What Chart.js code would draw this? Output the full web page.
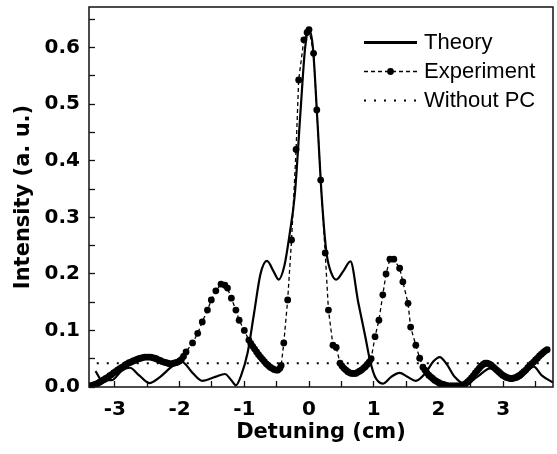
<!DOCTYPE html>
<html>
<head>
<meta charset="utf-8">
<script src="https://cdn.jsdelivr.net/npm/chart.js@4.4.1/dist/chart.umd.min.js"></script>
<style>
  html, body { margin: 0; padding: 0; background: #fff; }
  #wrap { width: 557px; height: 454px; }
</style>
</head>
<body>
<div id="wrap"><canvas id="chart"></canvas></div>
<script>
// ============================================================
// DATA
// ============================================================

const theoryX = [-3.3, -3.2, -3.05, -2.9, -2.77, -2.62, -2.47, -2.3, -2.1, -1.97, -1.8, -1.65, -1.45, -1.3, -1.2, -1.13,
  -1.05, -0.95, -0.85, -0.75, -0.65, -0.55, -0.47, -0.38, -0.3, -0.22, -0.13, -0.06, 0, 0.06, 0.13, 0.2, 0.27, 0.35,
  0.42, 0.53, 0.64, 0.76, 0.87, 0.94, 1.02, 1.14, 1.27, 1.4, 1.52, 1.65, 1.8, 1.92, 2.02, 2.13, 2.25, 2.42, 2.6, 2.8,
  2.95, 3.1, 3.25, 3.47, 3.6, 3.77];
const theoryY = [0.028, 0.012, 0.012, 0.028, 0.034, 0.02, 0.007, 0.018, 0.038, 0.045, 0.025, 0.011, 0.018, 0.023, 0.012, 0.003,
  0.02, 0.06, 0.13, 0.2, 0.223, 0.205, 0.19, 0.215, 0.27, 0.34, 0.49, 0.6, 0.632, 0.6, 0.47, 0.33, 0.237, 0.2,
  0.19, 0.205, 0.222, 0.15, 0.089, 0.048, 0.018, 0.006, 0.018, 0.025, 0.018, 0.011, 0.025, 0.045, 0.053, 0.04, 0.018, 0.005, 0.018, 0.033,
  0.025, 0.012, 0.015, 0.036, 0.02, 0.008];

const expX = [
  -3.38, -3.35, -3.32, -3.29, -3.26, -3.23, -3.2, -3.17, -3.14, -3.11, -3.08, -3.05, -3.02, -2.99, -2.96, -2.93,
  -2.9, -2.87, -2.84, -2.81, -2.78, -2.75, -2.72, -2.69, -2.66, -2.63, -2.6, -2.57, -2.54, -2.51, -2.48, -2.45,
  -2.42, -2.39, -2.36, -2.33, -2.3, -2.27, -2.24, -2.21, -2.18, -2.15, -2.12, -2.09, -2.06, -2.03, -2.0, -1.97, -1.94,
  -1.9, -1.8, -1.72, -1.65, -1.57, -1.51, -1.44, -1.36, -1.3, -1.26, -1.2, -1.13, -1.08, -1.0,
  -0.93, -0.9, -0.87, -0.84, -0.81, -0.78, -0.75, -0.72, -0.69, -0.66, -0.63, -0.6, -0.57, -0.54, -0.51, -0.48, -0.45, -0.43,
  -0.39, -0.33, -0.27, -0.2, -0.16, -0.08, -0.03, 0, 0.07, 0.12, 0.18, 0.25, 0.3, 0.37, 0.42,
  0.48, 0.51, 0.54, 0.57, 0.6, 0.63, 0.66, 0.69, 0.72, 0.75, 0.78, 0.81, 0.84, 0.87, 0.9, 0.93, 0.96,
  1.02, 1.08, 1.14, 1.19, 1.25, 1.31, 1.4, 1.45, 1.53, 1.57, 1.65, 1.71,
  1.76, 1.79, 1.82, 1.85, 1.88, 1.91, 1.94, 1.97, 2.0, 2.03, 2.06, 2.09, 2.12, 2.15, 2.18, 2.21, 2.24, 2.27, 2.3,
  2.33, 2.36, 2.39, 2.42, 2.45, 2.48, 2.51, 2.54, 2.57, 2.6, 2.63, 2.66, 2.69, 2.72, 2.75, 2.78, 2.81, 2.84, 2.87,
  2.9, 2.93, 2.96, 2.99, 3.02, 3.05, 3.08, 3.11, 3.14, 3.17, 3.2, 3.23, 3.26, 3.29, 3.32, 3.35, 3.38, 3.41, 3.44,
  3.47, 3.5, 3.53, 3.56, 3.59, 3.62, 3.65, 3.68];
const expY = [
  0.002, 0.003, 0.004, 0.005, 0.007, 0.009, 0.011, 0.013, 0.015, 0.017, 0.02, 0.022, 0.025, 0.027, 0.03, 0.032,
  0.034, 0.036, 0.039, 0.041, 0.043, 0.044, 0.046, 0.047, 0.049, 0.05, 0.051, 0.052, 0.053, 0.053, 0.053, 0.053,
  0.052, 0.051, 0.05, 0.048, 0.047, 0.045, 0.044, 0.043, 0.042, 0.041, 0.041, 0.042, 0.043, 0.044, 0.046, 0.049, 0.054,
  0.062, 0.078, 0.095, 0.115, 0.136, 0.154, 0.17, 0.182, 0.18, 0.175, 0.157, 0.136, 0.118, 0.1,
  0.083, 0.077, 0.072, 0.067, 0.062, 0.057, 0.053, 0.049, 0.045, 0.041, 0.038, 0.035, 0.033, 0.031, 0.03, 0.03, 0.033, 0.038,
  0.078, 0.154, 0.26, 0.42, 0.543, 0.614, 0.627, 0.632, 0.59, 0.49, 0.366, 0.237, 0.136, 0.074, 0.07,
  0.042, 0.037, 0.033, 0.03, 0.027, 0.025, 0.024, 0.024, 0.024, 0.026, 0.028, 0.03, 0.033, 0.036, 0.04, 0.044, 0.05,
  0.089, 0.118, 0.163, 0.2, 0.226, 0.226, 0.21, 0.186, 0.148, 0.106, 0.074, 0.051,
  0.035, 0.03, 0.025, 0.021, 0.018, 0.015, 0.012, 0.01, 0.008, 0.006, 0.005, 0.004, 0.003, 0.002, 0.002, 0.002, 0.002, 0.002, 0.002,
  0.002, 0.003, 0.004, 0.006, 0.009, 0.012, 0.016, 0.02, 0.025, 0.029, 0.033, 0.037, 0.04, 0.042, 0.042, 0.041, 0.039, 0.036, 0.033,
  0.03, 0.027, 0.024, 0.021, 0.019, 0.017, 0.016, 0.015, 0.015, 0.016, 0.017, 0.019, 0.021, 0.024, 0.027, 0.03, 0.034, 0.037, 0.041,
  0.044, 0.048, 0.051, 0.055, 0.058, 0.061, 0.064, 0.066];

const noPcX = [-3.28, 3.77];
const noPcY = [0.042, 0.042];

const seriesLabels = ["Theory", "Experiment", "Without PC"];
const xTitle = "Detuning (cm)";
const yTitle = "Intensity (a. u.)";


// ============================================================
// HELPERS
// ============================================================

function toPoints(xs, ys) {
  return xs.map((x, i) => ({ x: x, y: ys[i] }));
}

const tickFont  = { family: "DejaVu Sans", weight: "bold", size: 20 };
const titleFont = { family: "DejaVu Sans", weight: "bold", size: 21 };

// frame round the plot area (top and right sides too)
const frame = {
  id: "frame",
  afterDatasetsDraw(chart) {
    const { ctx, chartArea: a } = chart;
    ctx.save();
    ctx.strokeStyle = "#111";
    ctx.lineWidth = 1.5;
    ctx.strokeRect(a.left, a.top, a.right - a.left, a.bottom - a.top);
    ctx.restore();
  }
};

// legend drawn inside the plot, top right
const insideLegend = {
  id: "insideLegend",
  afterDraw(chart) {
    const { ctx, chartArea: a } = chart;
    const x0 = a.right - 189;
    const x1 = x0 + 53;
    chart.data.datasets.forEach((ds, i) => {
      const y = a.top + 35.5 + i * 29;
      ctx.save();
      ctx.strokeStyle = "#000";
      ctx.lineWidth = ds.legendWidth;
      ctx.setLineDash(ds.borderDash || []);
      ctx.beginPath();
      ctx.moveTo(x0, y);
      ctx.lineTo(x1, y);
      ctx.stroke();
      if (ds.pointRadius > 0) {
        ctx.setLineDash([]);
        ctx.fillStyle = "#000";
        ctx.beginPath();
        ctx.arc((x0 + x1) / 2, y, ds.pointRadius, 0, Math.PI * 2);
        ctx.fill();
      }
      ctx.fillStyle = "#000";
      ctx.font = '22px "Liberation Sans"';
      ctx.textBaseline = "middle";
      ctx.fillText(ds.label, x1 + 7, y);
      ctx.restore();
    });
  }
};


// ============================================================
// CHART
// ============================================================

new Chart(document.getElementById("chart"), {
  type: "scatter",
  data: {
    datasets: [
      {
        label: seriesLabels[0],
        data: toPoints(theoryX, theoryY),
        showLine: true,
        borderColor: "#000",
        borderWidth: 2.2,
        legendWidth: 3,
        pointRadius: 0,
        cubicInterpolationMode: "monotone",
      },
      {
        label: seriesLabels[1],
        data: toPoints(expX, expY),
        showLine: true,
        borderColor: "#000",
        borderWidth: 1.3,
        legendWidth: 1.3,
        borderDash: [4, 3],
        pointRadius: 3.4,
        pointBackgroundColor: "#000",
        pointBorderWidth: 0,
      },
      {
        label: seriesLabels[2],
        data: toPoints(noPcX, noPcY),
        showLine: true,
        borderColor: "#000",
        borderWidth: 2.2,
        legendWidth: 2.2,
        borderDash: [2, 8],
        pointRadius: 0,
      }
    ]
  },
  options: {
    animation: false,
    responsive: true,
    maintainAspectRatio: false,
    layout: { padding: { top: 7, right: 1, left: 0, bottom: 0 } },
    plugins: {
      legend:  { display: false },
      tooltip: { enabled: false }
    },
    scales: {
      x: {
        type: "linear",
        min: -3.4,
        max: 3.77,
        afterFit: s => { s.height = 67; s.paddingLeft = 0; s.paddingRight = 0; },
        border: { display: false },
        grid: { drawOnChartArea: false, tickLength: -6, tickWidth: 1.3, tickColor: "#111" },
        ticks: {
          stepSize: 0.5,
          includeBounds: false,
          autoSkip: false,
          maxRotation: 0,
          padding: 17,
          color: "#000",
          font: tickFont,
          callback: v => Number.isInteger(Math.round(v * 10) / 10) ? String(v) : ""
        },
        title: { display: true, text: xTitle, color: "#000", font: titleFont, padding: { top: 0, bottom: 9 } }
      },
      y: {
        type: "linear",
        min: 0,
        max: 0.672,
        afterFit: s => { s.width = 89; s.paddingTop = 0; s.paddingBottom = 0; },
        border: { display: false },
        grid: { drawOnChartArea: false, tickLength: -6, tickWidth: 1.3, tickColor: "#111" },
        ticks: {
          stepSize: 0.05,
          includeBounds: false,
          autoSkip: false,
          padding: 15,
          color: "#000",
          font: tickFont,
          callback: v => Math.round(v * 100) % 10 === 0 ? v.toFixed(1) : ""
        },
        title: { display: true, text: yTitle, color: "#000", font: titleFont, padding: { top: 11, bottom: 0 } }
      }
    }
  },
  plugins: [frame, insideLegend]
});
</script>
</body>
</html>
